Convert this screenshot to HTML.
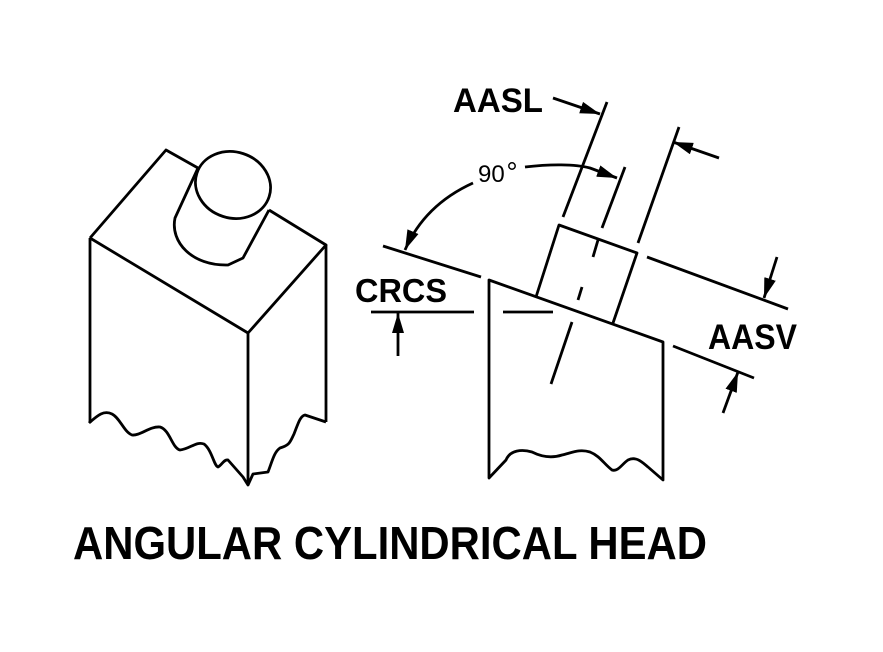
<!DOCTYPE html>
<html><head><meta charset="utf-8"><style>html,body{margin:0;padding:0;background:#fff}svg{display:block}</style></head>
<body>
<svg width="883" height="652" viewBox="0 0 883 652" xmlns="http://www.w3.org/2000/svg">
<defs>
<marker id="a" markerWidth="20" markerHeight="12" refX="20" refY="6" orient="auto" markerUnits="userSpaceOnUse">
<path d="M0,0 L20,6 L0,12 Z" fill="#000"/>
</marker>
</defs>
<g fill="none" stroke="#000" stroke-width="2.8" stroke-linejoin="round" stroke-linecap="butt">
<!-- left block -->
<path d="M90,238 L166,150 L198,168"/>
<path d="M269,210 L326,245 L248,333 L90,238"/>
<path d="M90,238 L90,423"/><path d="M248,333 L248,485"/><path d="M326,245 L326,422"/>
<path d="M89,423 C98,415 104,410 112,414 C120,418 124,432 132,435 C140,436 150,426 160,427 C170,430 172,448 180,450 C190,449 196,441 204,444 C212,450 214,466 218,467 C222,465 224,459 228,460 L243,477 L248,485 L253,474 L268,472 C272,462 274,452 280,448 C290,445 290,442 294,434 C298,424 300,416 305,415 L326,422"/>
<ellipse cx="233" cy="185" rx="38" ry="33" transform="rotate(18 233 185)" fill="#fff"/>
<path d="M198,168 L175,218 C170,242 192,266 228,265 L243,258 L269,210"/>
<!-- right block -->
<path d="M489,478 L489,280 L663,342 L663,480 L648,467 C642,462 636,456 628,460 C622,464 618,472 612,470 C604,464 600,456 590,452 C580,449 574,452 562,455 C550,459 540,456 532,452 C522,449 510,450 506,460 Z"/>
<path d="M536,297 L559,225 L637,253 L613,323"/>
<!-- centerline -->
<path d="M598,240 L593,257"/><path d="M582,287 L578,300"/><path d="M572,322 L551,384"/>
<!-- extension lines -->
<path d="M607,102 L563,217"/><path d="M625,167 L602,228"/><path d="M679,127 L638,243"/>
<path d="M383,246 L481,277"/><path d="M647,257 L788,309"/><path d="M673,346 L754,378"/>
<path d="M371,312 L474,312"/><path d="M503,312 L553,312"/>
<!-- arrows -->
<path d="M553,98 L600,114" marker-end="url(#a)"/>
<path d="M719,158 L673,142" marker-end="url(#a)"/>
<path d="M525,167 C550,164 575,164 590,168 L617,178" marker-end="url(#a)"/>
<path d="M473,183 C440,198 418,220 405,250" marker-end="url(#a)"/>
<path d="M777,257 L764,298" marker-end="url(#a)"/>
<path d="M723,413 L738,372" marker-end="url(#a)"/>
<path d="M398,356 L398,313" marker-end="url(#a)"/>
</g>
<g font-family="Liberation Sans, Arial, sans-serif" fill="#000">
<text x="453" y="112" font-size="34" font-weight="bold" textLength="90" lengthAdjust="spacingAndGlyphs">AASL</text>
<text x="355" y="302" font-size="33" font-weight="bold" textLength="92" lengthAdjust="spacingAndGlyphs">CRCS</text>
<text x="708" y="349" font-size="35" font-weight="bold" textLength="89" lengthAdjust="spacingAndGlyphs">AASV</text>
<text x="478" y="182" font-size="24">90</text>
<circle cx="512" cy="166" r="3.2" fill="none" stroke="#000" stroke-width="1.5"/>
<text x="73" y="559" font-size="46" font-weight="bold" textLength="634" lengthAdjust="spacingAndGlyphs">ANGULAR CYLINDRICAL HEAD</text>
</g>
</svg>
</body></html>
